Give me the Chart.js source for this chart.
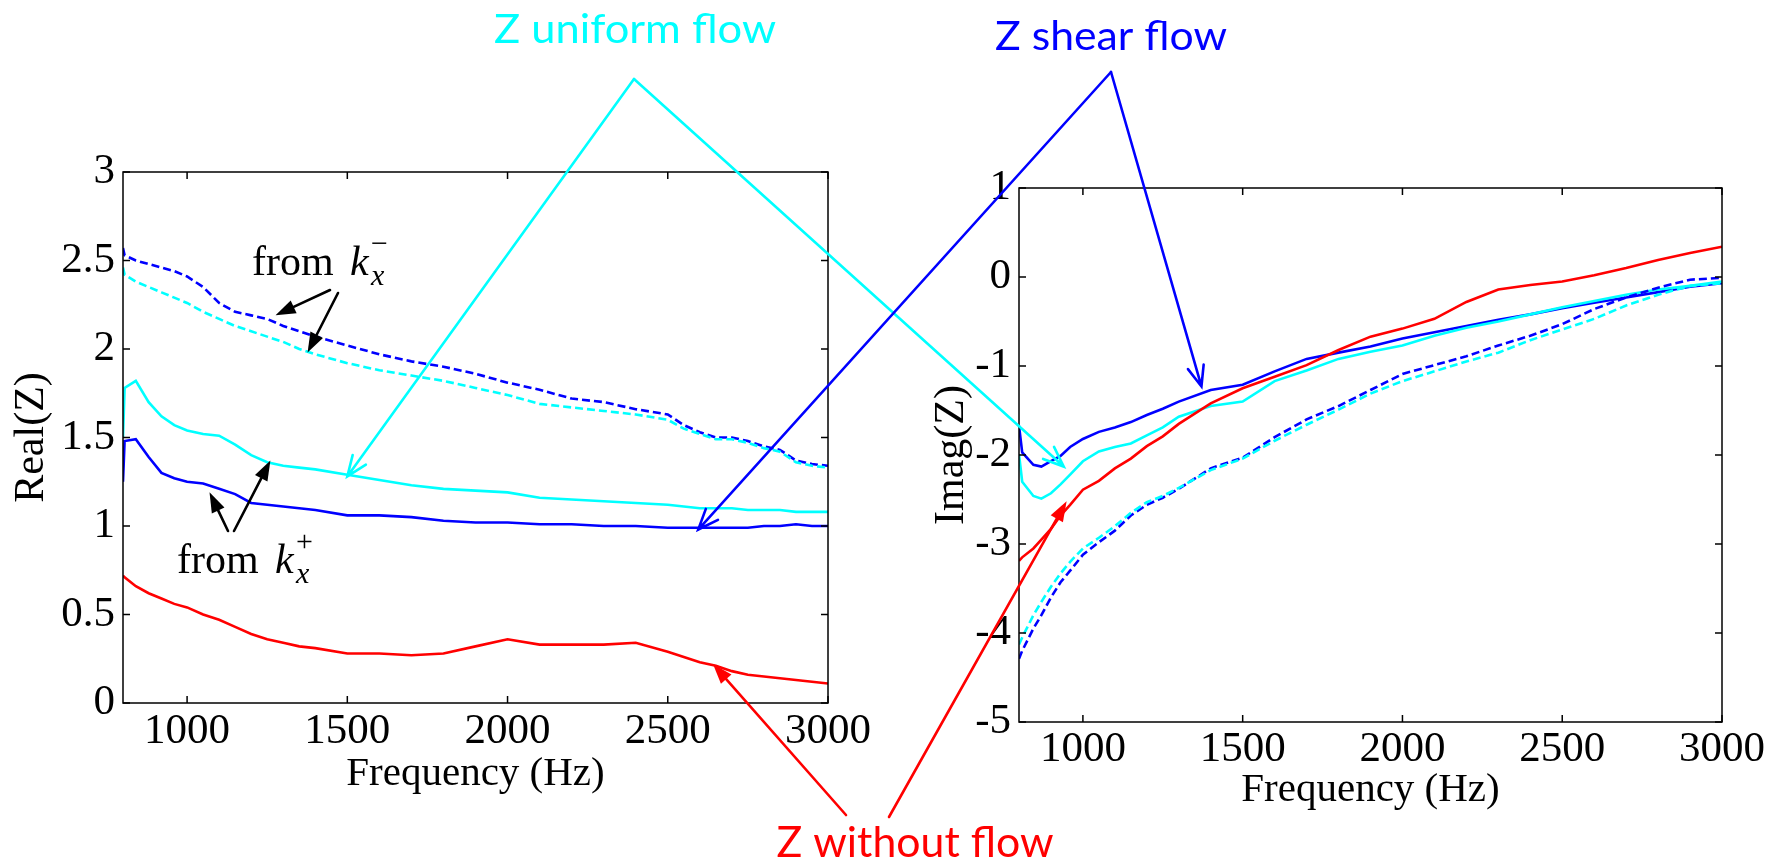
<!DOCTYPE html>
<html lang="en">
<head>
<meta charset="UTF-8">
<title>Real and imaginary impedance vs frequency</title>
<script src="https://cdn.jsdelivr.net/npm/chart.js"></script>
<style>
  body { margin: 0; background: #fff; width: 1777px; height: 860px; position: relative; overflow: hidden; }
  canvas { position: absolute; top: 0; }
  #realChart { left: 0; }
  #imagChart { left: 920px; }
  #notes { left: 0; pointer-events: none; }
</style>
</head>
<body>
<canvas id="realChart" width="880" height="860"></canvas>
<canvas id="imagChart" width="857" height="860"></canvas>
<canvas id="notes" width="1777" height="860"></canvas>
<script>
// ---- data ----
const freqTicks = [1000, 1500, 2000, 2500, 3000];
const realTicks = [0, 0.5, 1, 1.5, 2, 2.5, 3];
const imagTicks = [-5, -4, -3, -2, -1, 0, 1];

const realFreq = [800, 805, 840, 880, 920, 960, 1000, 1050, 1100, 1150, 1200, 1250, 1300, 1350, 1400, 1500, 1600, 1700, 1800, 1900, 2000, 2100, 2200, 2300, 2400, 2500, 2550, 2600, 2650, 2700, 2750, 2800, 2850, 2900, 2950, 3000];
const realShearMinus = [2.57, 2.53, 2.50, 2.48, 2.46, 2.44, 2.41, 2.35, 2.26, 2.21, 2.19, 2.17, 2.13, 2.10, 2.07, 2.02, 1.97, 1.93, 1.90, 1.86, 1.81, 1.77, 1.72, 1.70, 1.66, 1.63, 1.57, 1.53, 1.50, 1.50, 1.48, 1.45, 1.43, 1.37, 1.35, 1.34];
const realUniformMinus = [2.46, 2.42, 2.38, 2.35, 2.32, 2.29, 2.26, 2.21, 2.17, 2.13, 2.10, 2.07, 2.04, 2.00, 1.97, 1.92, 1.88, 1.85, 1.82, 1.78, 1.74, 1.69, 1.67, 1.65, 1.63, 1.60, 1.55, 1.52, 1.49, 1.49, 1.47, 1.44, 1.42, 1.36, 1.34, 1.33];
const realUniformPlus = [1.50, 1.78, 1.82, 1.70, 1.62, 1.57, 1.54, 1.52, 1.51, 1.46, 1.40, 1.36, 1.34, 1.33, 1.32, 1.29, 1.26, 1.23, 1.21, 1.20, 1.19, 1.16, 1.15, 1.14, 1.13, 1.12, 1.11, 1.10, 1.10, 1.10, 1.09, 1.09, 1.09, 1.08, 1.08, 1.08];
const realShearPlus = [1.25, 1.48, 1.49, 1.39, 1.30, 1.27, 1.25, 1.24, 1.21, 1.18, 1.13, 1.12, 1.11, 1.10, 1.09, 1.06, 1.06, 1.05, 1.03, 1.02, 1.02, 1.01, 1.01, 1.00, 1.00, 0.99, 0.99, 0.99, 0.99, 0.99, 0.99, 1.00, 1.00, 1.01, 1.00, 1.00];
const realNoFlow = [0.72, 0.71, 0.66, 0.62, 0.59, 0.56, 0.54, 0.50, 0.47, 0.43, 0.39, 0.36, 0.34, 0.32, 0.31, 0.28, 0.28, 0.27, 0.28, 0.32, 0.36, 0.33, 0.33, 0.33, 0.34, 0.29, 0.26, 0.23, 0.21, 0.18, 0.16, 0.15, 0.14, 0.13, 0.12, 0.11];

const imagFreq = [800, 810, 845, 870, 900, 930, 960, 1000, 1050, 1100, 1150, 1200, 1250, 1300, 1400, 1500, 1600, 1700, 1800, 1900, 2000, 2100, 2200, 2300, 2400, 2500, 2600, 2700, 2800, 2900, 3000];
const imagNoFlow = [-3.19, -3.15, -3.05, -2.95, -2.83, -2.68, -2.56, -2.39, -2.29, -2.15, -2.04, -1.90, -1.79, -1.65, -1.42, -1.25, -1.12, -0.99, -0.82, -0.67, -0.58, -0.47, -0.28, -0.14, -0.09, -0.05, 0.02, 0.10, 0.19, 0.27, 0.34];
const imagShearPlus = [-1.67, -1.97, -2.11, -2.13, -2.07, -2.01, -1.91, -1.82, -1.74, -1.69, -1.63, -1.55, -1.48, -1.40, -1.27, -1.21, -1.06, -0.92, -0.85, -0.78, -0.69, -0.62, -0.55, -0.48, -0.42, -0.35, -0.29, -0.23, -0.17, -0.11, -0.07];
const imagUniformPlus = [-1.99, -2.30, -2.46, -2.49, -2.43, -2.33, -2.22, -2.07, -1.96, -1.91, -1.87, -1.78, -1.69, -1.57, -1.45, -1.40, -1.17, -1.05, -0.92, -0.84, -0.77, -0.66, -0.57, -0.50, -0.42, -0.34, -0.27, -0.20, -0.14, -0.10, -0.05];
const imagShearMinus = [-4.29, -4.20, -3.95, -3.80, -3.60, -3.43, -3.30, -3.12, -2.98, -2.85, -2.68, -2.56, -2.48, -2.38, -2.15, -2.03, -1.80, -1.60, -1.45, -1.27, -1.09, -0.99, -0.89, -0.77, -0.66, -0.53, -0.36, -0.23, -0.12, -0.03, -0.01];
const imagUniformMinus = [-4.13, -4.05, -3.80, -3.65, -3.48, -3.33, -3.20, -3.05, -2.93, -2.80, -2.65, -2.53, -2.46, -2.37, -2.17, -2.04, -1.84, -1.66, -1.49, -1.31, -1.17, -1.06, -0.95, -0.85, -0.71, -0.59, -0.47, -0.32, -0.20, -0.10, -0.07];

const CYAN = '#00FFFF', BLUE = '#0000FF', RED = '#FF0000';
const SERIF = '"Liberation Serif", "Times New Roman", serif';

function series(freq, vals, color, dashed) {
  return {
    data: freq.map((f, i) => ({ x: f, y: vals[i] })),
    borderColor: color,
    borderWidth: 2.6,
    borderDash: dashed ? [8, 4] : [],
    pointRadius: 0,
    tension: 0,
    fill: false
  };
}

// box + inward MATLAB style ticks
const framePlugin = {
  id: 'frame',
  afterDraw(chart) {
    const { ctx, chartArea: a, scales } = chart;
    ctx.save();
    ctx.strokeStyle = '#000';
    ctx.lineWidth = 1.5;
    ctx.strokeRect(a.left, a.top, a.right - a.left, a.bottom - a.top);
    ctx.beginPath();
    scales.x.ticks.forEach(t => {
      const px = scales.x.getPixelForValue(t.value);
      ctx.moveTo(px, a.bottom); ctx.lineTo(px, a.bottom - 7);
      ctx.moveTo(px, a.top); ctx.lineTo(px, a.top + 7);
    });
    scales.y.ticks.forEach(t => {
      const py = scales.y.getPixelForValue(t.value);
      ctx.moveTo(a.left, py); ctx.lineTo(a.left + 7, py);
      ctx.moveTo(a.right, py); ctx.lineTo(a.right - 7, py);
    });
    ctx.stroke();
    ctx.restore();
  }
};

function makeChart(id, datasets, yMin, yMax, yTicks, yTitle, box) {
  return new Chart(document.getElementById(id), {
    type: 'line',
    data: { datasets },
    plugins: [framePlugin],
    options: {
      responsive: false,
      animation: false,
      events: [],
      layout: { padding: { left: 0, top: box.top, right: box.right, bottom: box.bottom } },
      plugins: { legend: { display: false }, tooltip: { enabled: false } },
      scales: {
        x: {
          type: 'linear', min: 800, max: 3000,
          afterBuildTicks: s => { s.ticks = freqTicks.map(v => ({ value: v })); },
          afterFit: s => { s.height = 110; },
          grid: { display: false, drawTicks: false },
          border: { display: false },
          ticks: { color: '#000', font: { family: SERIF, size: 43 }, padding: box.xTickPad, maxRotation: 0, autoSkip: false,
                   callback: v => String(v) },
          title: { display: true, text: 'Frequency (Hz)', color: '#000', font: { family: SERIF, size: 41 },
                   padding: { top: 0, bottom: box.xTitlePad } }
        },
        y: {
          type: 'linear', min: yMin, max: yMax,
          afterBuildTicks: s => { s.ticks = yTicks.map(v => ({ value: v })); },
          afterFit: s => { s.width = box.yWidth; },
          grid: { display: false, drawTicks: false },
          border: { display: false },
          ticks: { color: '#000', font: { family: SERIF, size: 43 }, padding: 8, autoSkip: false,
                   callback: v => String(v) },
          title: { display: true, text: yTitle, color: '#000', font: { family: SERIF, size: 42 },
                   padding: { top: 7, bottom: 0 } }
        }
      }
    }
  });
}

const realChart = makeChart('realChart', [
  series(realFreq, realNoFlow, RED, false),
  series(realFreq, realShearPlus, BLUE, false),
  series(realFreq, realUniformPlus, CYAN, false),
  series(realFreq, realUniformMinus, CYAN, true),
  series(realFreq, realShearMinus, BLUE, true)
], 0, 3, realTicks, 'Real(Z)', { top: 172, right: 52, bottom: 47, yWidth: 123, xTickPad: 3, xTitlePad: 14 });

const imagChart = makeChart('imagChart', [
  series(imagFreq, imagUniformMinus, CYAN, true),
  series(imagFreq, imagShearMinus, BLUE, true),
  series(imagFreq, imagNoFlow, RED, false),
  series(imagFreq, imagUniformPlus, CYAN, false),
  series(imagFreq, imagShearPlus, BLUE, false)
], -5, 1, imagTicks, 'Imag(Z)', { top: 188, right: 55, bottom: 28, yWidth: 99, xTickPad: 2, xTitlePad: 17 });

// ---- annotations (arrows point at data positions through the scales) ----
const notes = document.getElementById('notes');
const nctx = notes.getContext('2d');

function at(chart, offsetX, f, v) {
  return [offsetX + chart.scales.x.getPixelForValue(f), chart.scales.y.getPixelForValue(v)];
}

function arrow(ctx, from, to, color, kind) {
  const ang = Math.atan2(to[1] - from[1], to[0] - from[0]);
  ctx.save();
  ctx.strokeStyle = color;
  ctx.fillStyle = color;
  ctx.lineWidth = 2.6;
  ctx.lineCap = 'round';
  if (kind === 'open') {
    const L = 22, w = 0.38;
    ctx.beginPath();
    ctx.moveTo(from[0], from[1]); ctx.lineTo(to[0], to[1]);
    ctx.moveTo(to[0] - L * Math.cos(ang - w), to[1] - L * Math.sin(ang - w));
    ctx.lineTo(to[0], to[1]);
    ctx.lineTo(to[0] - L * Math.cos(ang + w), to[1] - L * Math.sin(ang + w));
    ctx.stroke();
  } else {
    const L = 20, hw = 7;
    const bx = to[0] - L * Math.cos(ang), by = to[1] - L * Math.sin(ang);
    ctx.beginPath();
    ctx.moveTo(from[0], from[1]); ctx.lineTo(bx, by);
    ctx.stroke();
    ctx.beginPath();
    ctx.moveTo(to[0], to[1]);
    ctx.lineTo(bx + hw * Math.sin(ang), by - hw * Math.cos(ang));
    ctx.lineTo(bx - hw * Math.sin(ang), by + hw * Math.cos(ang));
    ctx.closePath();
    ctx.fill();
  }
  ctx.restore();
}

function fitText(ctx, text, cx, baseline, width, font, color) {
  ctx.save();
  ctx.font = font;
  const m = ctx.measureText(text).width;
  ctx.translate(cx, baseline);
  ctx.scale(width / m, 1);
  ctx.fillStyle = color;
  ctx.textAlign = 'center';
  ctx.textBaseline = 'alphabetic';
  ctx.fillText(text, 0, 0);
  ctx.restore();
}

function fromLabel(ctx, x, baseline, sign) {
  ctx.save();
  ctx.fillStyle = '#000';
  ctx.textBaseline = 'alphabetic';
  ctx.font = '42px ' + SERIF;
  ctx.fillText('from', x, baseline);
  const kx = x + 98;
  ctx.font = 'italic 42px ' + SERIF;
  ctx.fillText('k', kx, baseline);
  ctx.font = 'italic 30px ' + SERIF;
  ctx.fillText('x', kx + 21, baseline + 10);
  ctx.font = '30px ' + SERIF;
  ctx.fillText(sign, kx + 21, baseline - 22);
  ctx.restore();
}

function drawNotes() {
  const L = 0, R = 920;
  // k labels
  fromLabel(nctx, 252, 275, '\u2212');
  arrow(nctx, [330, 290], at(realChart, L, 1276, 2.19), '#000', 'filled');
  arrow(nctx, [338, 293], at(realChart, L, 1376, 1.98), '#000', 'filled');
  fromLabel(nctx, 177, 573, '+');
  arrow(nctx, [228, 531], at(realChart, L, 1070, 1.19), '#000', 'filled');
  arrow(nctx, [234, 531], at(realChart, L, 1260, 1.37), '#000', 'filled');

  // Z uniform flow
  fitText(nctx, 'Z uniform flow', 635, 43, 282, '40px Lato, "Open Sans", sans-serif', CYAN);
  arrow(nctx, [634, 79], at(realChart, L, 1500, 1.28), CYAN, 'open');
  arrow(nctx, [634, 79], at(imagChart, R, 940, -2.13), CYAN, 'open');

  // Z shear flow
  fitText(nctx, 'Z shear flow', 1111, 50, 232, '40px Lato, "Open Sans", sans-serif', BLUE);
  arrow(nctx, [1111, 72], at(realChart, L, 2595, 0.98), BLUE, 'open');
  arrow(nctx, [1111, 72], at(imagChart, R, 1371, -1.23), BLUE, 'open');

  // Z without flow
  fitText(nctx, 'Z without flow', 915, 857, 277, '42px Lato, "Open Sans", sans-serif', RED);
  arrow(nctx, [846, 815], at(realChart, L, 2641, 0.22), RED, 'filled');
  arrow(nctx, [889, 817], at(imagChart, R, 949, -2.52), RED, 'filled');
}

drawNotes();
</script>
</body>
</html>
